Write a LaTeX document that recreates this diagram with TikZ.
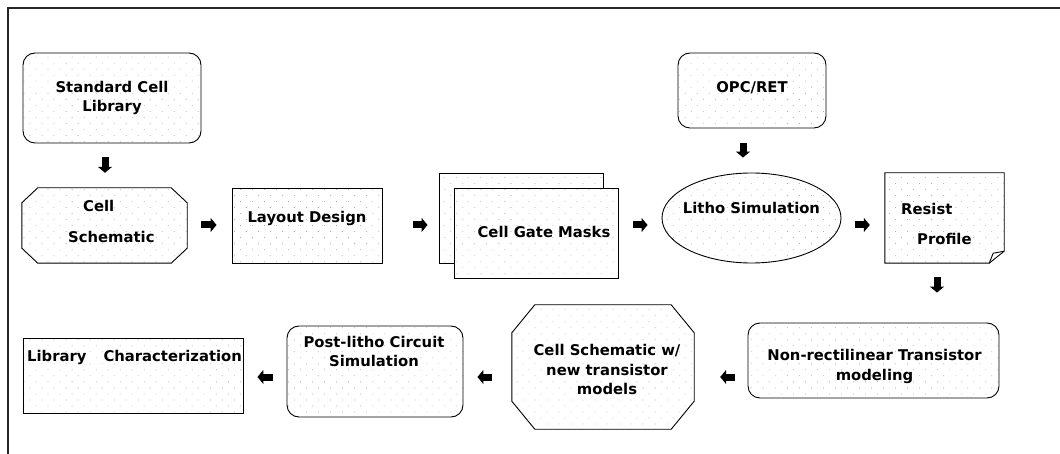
\documentclass[tikz,border=0pt]{standalone}
\usepackage{fontspec}
\setmainfont{DejaVu Sans}
\usetikzlibrary{shapes.geometric,patterns.meta,arrows.meta,calc}

% outline of a node with cut corners: #1 node name, #2 horizontal cut, #3 vertical cut
\newcommand\chamferoutline[3]{%
  \draw[box] ($(#1.north west)+(#2,0)$) -- ($(#1.north east)+(-#2,0)$)
    -- ($(#1.north east)+(0,#3)$) -- ($(#1.south east)+(0,-#3)$)
    -- ($(#1.south east)+(-#2,0)$) -- ($(#1.south west)+(#2,0)$)
    -- ($(#1.south west)+(0,-#3)$) -- ($(#1.north west)+(0,#3)$) -- cycle;}

\begin{document}
\begin{tikzpicture}[x=1pt,y=-1pt,
  every node/.style={inner sep=0pt},
  lbl/.style={font=\bfseries\fontsize{14.8}{19.5}\selectfont, align=center},
  speckle/.style={preaction={fill=white},
    pattern={Dots[distance=8.5pt, angle=45, radius=0.55pt]}, pattern color=black!30},
  box/.style={draw, line width=0.9pt, speckle},
  roundbox/.style={box, rectangle, rounded corners=12pt},
  flow/.style={line width=7pt, -{Triangle[length=6pt,width=14pt]}},
]
\useasboundingbox (0,0) rectangle (1060,454);

% frame
\draw[line width=1.4pt, black!85] (1060,8) -- (8,8) -- (8,454);

% helper rows / columns for the block arrows
\coordinate (row1) at (0,225);
\coordinate (row3) at (0,377);
\coordinate (colA) at (105,0);
\coordinate (colB) at (743,0);
\coordinate (colC) at (937,0);

% ---- shapes, top part
\node[roundbox, minimum width=178pt, minimum height=90pt] (std) at (112,98) {};
\node[rectangle, minimum width=165pt, minimum height=75pt] (cs) at (104.5,225.5) {};
\chamferoutline{cs}{16}{15}
\node[box, rectangle, minimum width=150pt, minimum height=75pt] (lay) at (307,225.5) {};
\node[box, rectangle, minimum width=164pt, minimum height=90pt] (maskb) at (521,218) {};
\node[box, rectangle, minimum width=164pt, minimum height=90pt] (mask) at (536,233) {};
\node[roundbox, minimum width=148pt, minimum height=75pt] (opc) at (752,90.5) {};
\node[box, ellipse, minimum width=179pt, minimum height=90pt] (litho) at (751.5,218) {};
\node[rectangle, minimum width=119pt, minimum height=90pt] (res) at (944.5,218) {};
\draw[box] (res.north west) -- (res.north east) -- ($(res.south east)+(0,-12)$)
  -- ($(res.south east)+(-15,0)$) -- (res.south west) -- cycle;
\draw[line width=0.9pt] ($(res.south east)+(-15,0)$) -- ($(res.south east)+(-11,-10)$)
  -- ($(res.south east)+(0,-12)$);

% ---- shapes, bottom part
\node[roundbox, minimum width=251pt, minimum height=75pt] (nrt) at (873.5,360.5) {};
\node[rectangle, minimum width=182pt, minimum height=124pt] (oct) at (603,367) {};
\chamferoutline{oct}{23}{28}
\node[roundbox, minimum width=176pt, minimum height=91pt] (post) at (375,371.5) {};
\node[box, rectangle, minimum width=220pt, minimum height=75pt] (lib) at (133,375.5) {};

% ---- texts
\node[lbl] (std-t) at (112,98) {Standard Cell\\Library};
\node[lbl, anchor=west] (cs-t1) at (83,206) {Cell};
\node[lbl, anchor=west] (cs-t2) at (68,237) {Schematic};
\node[lbl] (lay-t) at (307,218) {Layout Design};
\node[lbl] (mask-t) at (544,232) {Cell Gate Masks};
\node[lbl] (opc-t) at (752,88) {OPC/RET};
\node[lbl] (litho-t) at (751.5,208) {Litho Simulation};
\node[lbl, anchor=west] (res-t1) at (901,209) {Resist};
\node[lbl, anchor=west] (res-t2) at (917,239) {Profile};
\node[lbl] (nrt-t) at (874.5,366.5) {Non-rectilinear Transistor\\modeling};
\node[lbl] (oct-t) at (607,369.5) {Cell Schematic w/\\new transistor\\models};
\node[lbl] (post-t) at (374,351.5) {Post-litho Circuit\\Simulation};
\node[lbl, anchor=west] (lib-t) at (27,357) {Library\hspace{17pt}Characterization};

% ---- block arrows
\draw[flow, shorten <=14pt, shorten >=15pt] (std.south -| colA) -- (cs.north -| colA);
\draw[flow, shorten <=14pt, shorten >=15pt] (cs.east |- row1) -- (lay.west |- row1);
\draw[flow, shorten <=31pt, shorten >=11pt] (lay.east |- row1) -- (maskb.west |- row1);
\draw[flow, shorten <=15pt, shorten >=14pt] (mask.east |- row1) -- (litho.west |- row1);
\draw[flow, shorten <=15pt, shorten >=15pt] (opc.south -| colB) -- (litho.north -| colB);
\draw[flow, shorten <=14pt, shorten >=15pt] (litho.east |- row1) -- (res.west |- row1);
\draw[flow, shorten <=14pt, shorten >=30pt] (res.south -| colC) -- (nrt.north -| colC);
\draw[flow, shorten <=13pt, shorten >=26pt] (nrt.west |- row3) -- (oct.east |- row3);
\draw[flow, shorten <=20pt, shorten >=14pt] (oct.west |- row3) -- (post.east |- row3);
\draw[flow, shorten <=14pt, shorten >=14pt] (post.west |- row3) -- (lib.east |- row3);
\end{tikzpicture}
\end{document}
